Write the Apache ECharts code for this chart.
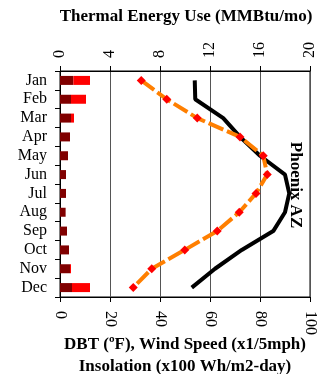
<!DOCTYPE html>
<html>
<head>
<meta charset="utf-8">
<script src="https://cdn.jsdelivr.net/npm/echarts@6/dist/echarts.min.js"></script>
<style>
  html, body { margin: 0; padding: 0; background: #fff; }
  #chart { width: 320px; height: 374px; }
</style>
</head>
<body>
<div id="chart"></div>
<script>
// months, top to bottom
var months = ['Jan', 'Feb', 'Mar', 'Apr', 'May', 'Jun', 'Jul', 'Aug', 'Sep', 'Oct', 'Nov', 'Dec']
// thermal energy use (MMBtu/mo), two stacked parts
var thermalBase = [1.07, 0.88, 0.88, 0.8, 0.64, 0.48, 0.48, 0.45, 0.56, 0.72, 0.8, 0.96]
var thermalPeak = [1.33, 1.2, 0.24, 0, 0, 0, 0, 0, 0, 0, 0.08, 1.44]
// insolation (x100 Wh/m2-day)
var insolation = [32.5, 42.7, 54.9, 72, 81.3, 82.9, 78.4, 71.7, 62.9, 49.9, 36.7, 29.3]
// dry bulb temperature (F)
var dbt = [53.9, 54.1, 65.3, 72, 80, 90, 91.7, 90, 85.3, 72.7, 62, 52.7]

var font = 'Liberation Serif'
var chart = echarts.init(document.getElementById('chart'))

var option = {
  animation: false,
  backgroundColor: '#fff',
  grid: {
    left: 60, right: 10, top: 71, bottom: 77,
    show: true, borderColor: '#000', borderWidth: 1, backgroundColor: 'transparent'
  },
  xAxis: [
    { // top: thermal energy
      type: 'value', position: 'top', min: 0, max: 20, interval: 4,
      axisLine: { show: true, lineStyle: { color: '#000', width: 1 } },
      axisTick: { show: true, length: 5, lineStyle: { color: '#000' } },
      axisLabel: { rotate: -90, margin: 13, color: '#000', fontFamily: font, fontSize: 16 },
      splitLine: { show: false }
    },
    { // bottom: DBT / insolation
      type: 'value', position: 'bottom', min: 0, max: 100, interval: 20,
      axisLine: { show: true, lineStyle: { color: '#000', width: 1 } },
      axisTick: { show: true, length: 5, lineStyle: { color: '#000' } },
      axisLabel: { rotate: -90, margin: 14, color: '#000', fontFamily: font, fontSize: 16 },
      splitLine: { show: true, lineStyle: { color: '#555', width: 1 } }
    }
  ],
  yAxis: {
    type: 'category', data: months, inverse: true,
    axisLine: { show: true, lineStyle: { color: '#000', width: 1 } },
    axisTick: { show: true, length: 5, interval: 0, lineStyle: { color: '#000' } },
    axisLabel: { interval: 0, margin: 13, color: '#000', fontFamily: font, fontSize: 16 },
    splitLine: { show: false }
  },
  graphic: [
    { type: 'text', x: 186, y: 17, style: { text: 'Thermal Energy Use (MMBtu/mo)', font: 'bold 17px "Liberation Serif"', fill: '#000', align: 'center', verticalAlign: 'middle' } },
    { type: 'text', x: 185, y: 345, style: { text: 'DBT (ºF), Wind Speed (x1/5mph)', font: 'bold 17px "Liberation Serif"', fill: '#000', align: 'center', verticalAlign: 'middle' } },
    { type: 'text', x: 185, y: 367, style: { text: 'Insolation (x100 Wh/m2-day)', font: 'bold 17px "Liberation Serif"', fill: '#000', align: 'center', verticalAlign: 'middle' } },
    { type: 'text', x: 295, y: 185, rotation: -Math.PI / 2, z: 100, style: { text: 'Phoenix AZ', font: 'bold 17px "Liberation Serif"', fill: '#000', align: 'center', verticalAlign: 'middle' } }
  ],
  series: [
    { type: 'bar', name: 'base', xAxisIndex: 0, stack: 'th', barWidth: 9, data: thermalBase, itemStyle: { color: '#800000' } },
    { type: 'bar', name: 'peak', xAxisIndex: 0, stack: 'th', barWidth: 9, data: thermalPeak, itemStyle: { color: '#ff0000' } },
    {
      type: 'line', name: 'Insolation', xAxisIndex: 1, data: insolation,
      symbol: 'diamond', symbolSize: 9, showSymbol: true,
      lineStyle: { color: '#ff7f00', width: 4, type: [16, 4] },
      itemStyle: { color: '#ff0000', borderWidth: 0 }, z: 4
    },
    {
      type: 'line', name: 'DBT', xAxisIndex: 1, data: dbt,
      symbol: 'none', lineStyle: { color: '#000', width: 4 }, z: 3
    }
  ]
}
chart.setOption(option)
</script>
</body>
</html>
